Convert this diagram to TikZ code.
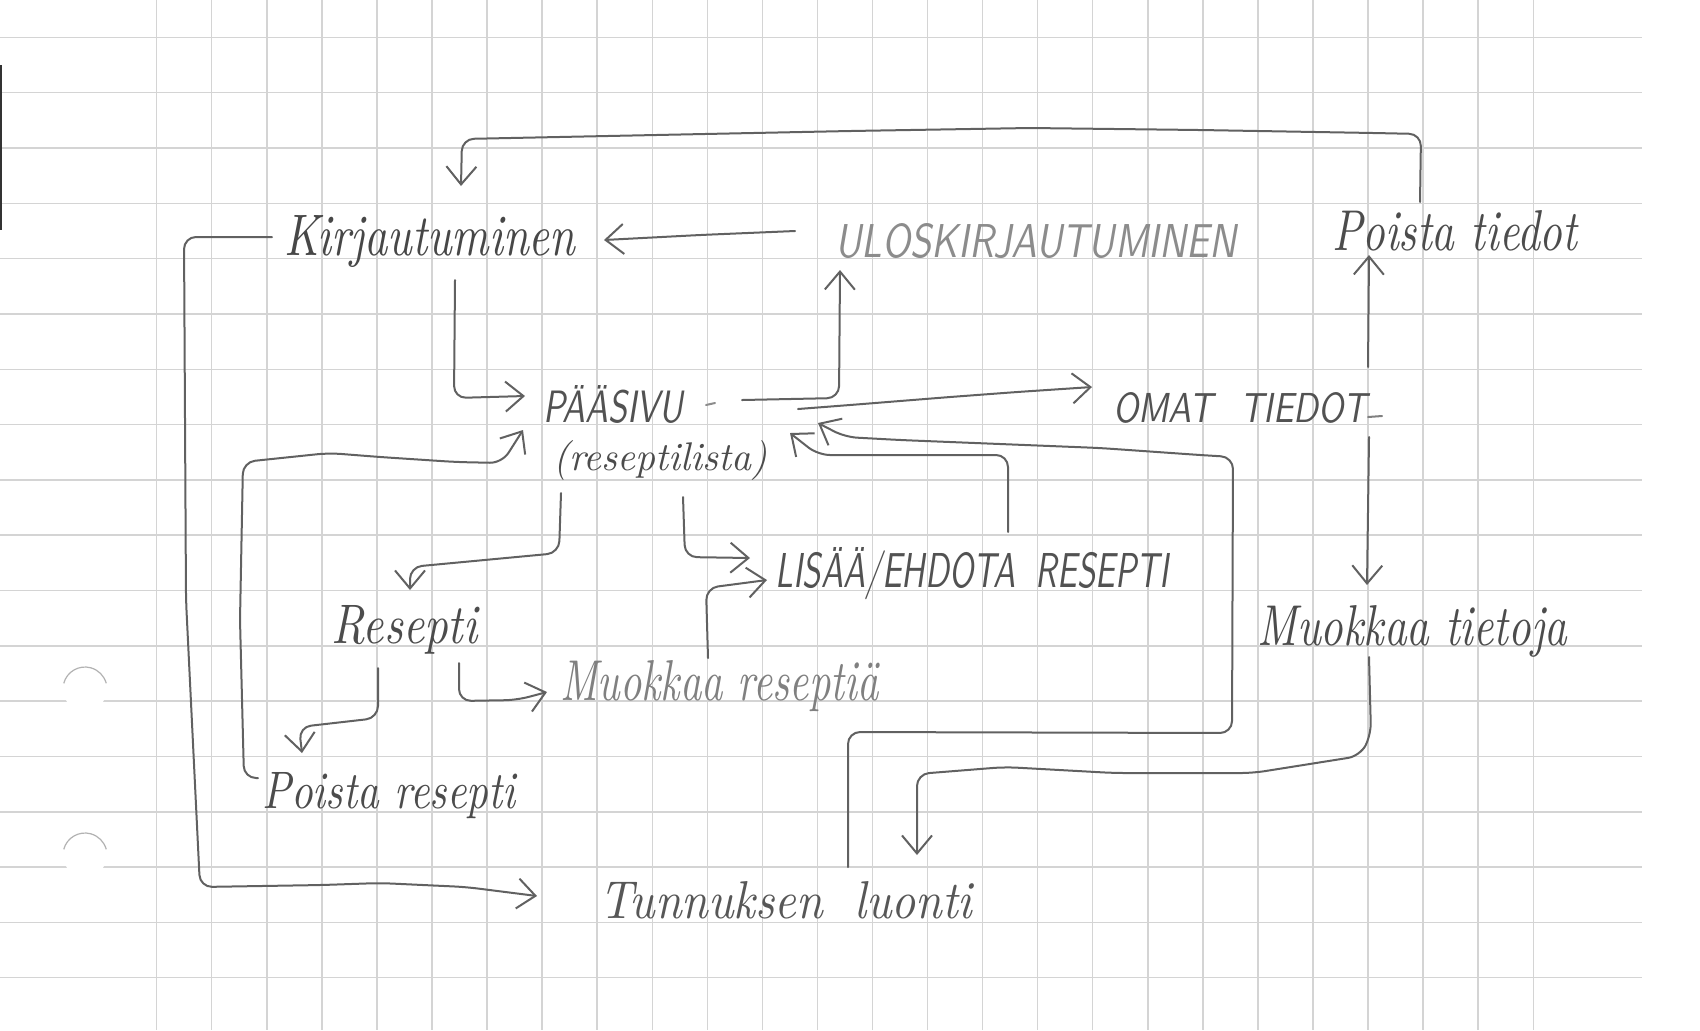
\documentclass[tikz,border=0pt]{standalone}
\usetikzlibrary{arrows.meta,calc}
\newcommand{\hwtext}[3]{\resizebox{#1pt}{#2pt}{#3}}
\begin{document}
\begin{tikzpicture}[x=0.5pt,y=-0.5pt,
  pencil/.style={draw=black!62, line width=1pt, line cap=round, line join=round, rounded corners=6pt},
  arr/.style={pencil, -{Straight Barb[length=9pt,width=15pt]}},
  hand/.style={inner sep=0pt, anchor=base west, text=black!70, font=\itshape},
  caps/.style={inner sep=0pt, anchor=base west, text=black!68, font=\sffamily\slshape},
  gridl/.style={draw=black!17, line width=0.7pt}]
\useasboundingbox (0,0) rectangle (1700,1030);
\fill[white] (0,0) rectangle (1700,1030);
% grid paper
\foreach \k in {0,...,25} \draw[gridl] ({156.7+55.06*\k},0) -- ({156.7+55.06*\k},1030);
\foreach \k in {0,...,17} \draw[gridl] (0,{37.3+55.32*\k}) -- (1642,{37.3+55.32*\k});
% punch holes and scan edge
\fill[white] (85,689) circle (22);
\fill[white] (85,855) circle (22);
\draw[black!30, line width=0.6pt] (85,689) ++(195:22) arc[start angle=195, end angle=345, radius=22];
\draw[black!30, line width=0.6pt] (85,855) ++(195:22) arc[start angle=195, end angle=345, radius=22];
\fill[black!80] (0,65) rectangle (2,230);

% texts
\node[hand, text=black!72] (kirj) at (284,255) {\hwtext{145.5}{20}{Kirjautuminen}};
\node[caps, text=black!45] (ulos) at (835,257) {\hwtext{200.5}{17}{ULOSKIRJAUTUMINEN}};
\node[hand] (ptied) at (1332,250) {\hwtext{122.5}{20}{Poista tiedot}};
\node[caps] (pas) at (543,422) {\hwtext{70}{18.5}{PÄÄSIVU}};
\node[hand] (rlist) at (553,470) {\hwtext{107}{15}{(reseptilista)}};
\node[caps] (omat) at (1113,422) {\hwtext{127}{15}{OMAT\hspace{0.8em}TIEDOT}};
\node[caps] (lisaa) at (775,587) {\hwtext{196.5}{20}{LISÄÄ/EHDOTA\hspace{0.6em}RESEPTI}};
\node[hand] (resepti) at (331,643) {\hwtext{73}{19}{Resepti}};
\node[hand, text=black!50] (mres) at (560,700) {\hwtext{159}{20}{Muokkaa reseptiä}};
\node[hand] (mtiet) at (1257,645) {\hwtext{155}{20}{Muokkaa tietoja}};
\node[hand] (pres) at (262,808) {\hwtext{126.5}{18}{Poista resepti}};
\node[hand, text=black!66] (tunn) at (599,918) {\hwtext{186.5}{18.5}{Tunnuksen\hspace{0.66em}luonti}};

% small pencil marks after labels
\draw[pencil, draw=black!45] ($(pas.base west)+(163,-17)$) -- ++(9,-2);
\draw[pencil, draw=black!50] ($(omat.base west)+(255,-5)$) -- ++(14,-1);

% connectors
\draw[arr] ($(ptied.base west)+(88,-48)$) -- (1421,134) -- (1374,133) -- (1200,130) -- (1030,128) -- (850,131) -- (462,139) -- ($(kirj.base west)+(177,-69)$);
\draw[arr] ($(ulos.base west)+(-40,-26)$) -- (700,235) -- ($(kirj.base west)+(320,-15)$);
\draw[arr] ($(kirj.base west)+(171,25)$) -- (454,398) -- ($(pas.base west)+(-18,-26)$);
\draw[arr] ($(pas.base west)+(199,-22)$) -- (839,398) -- ($(ulos.base west)+(5,13)$);
\draw[arr] ($(pas.base west)+(255,-13)$) -- (850,405) -- (950,397) -- (1017,392) -- ($(omat.base west)+(-21,-35)$);
\draw[arr] ($(omat.base west)+(255,-55)$) -- ($(ptied.base west)+(37,5)$);
\draw[arr] ($(omat.base west)+(256,15)$) -- ($(mtiet.base west)+(110,-60)$);
\draw[arr] ($(mtiet.base west)+(112,12)$) -- (1371,735) -- (1360,756) -- (1253,773) -- (1114,773) -- (1005,767) -- (917,774) -- ($(tunn.base west)+(318,-63)$);
\draw[arr] ($(tunn.base west)+(249,-51)$) -- (848,732) -- (1232,733) -- (1233,457) -- (1200,455) -- (1100,448) -- (1000,444) -- (900,440) -- (845,437) -- ($(rlist.base west)+(265,-47)$);
\draw[arr] ($(lisaa.base west)+(233,-55)$) -- (1008,455) -- (818,455) -- ($(rlist.base west)+(237,-37)$);
\draw[arr] ($(rlist.base west)+(8,23)$) -- (559,553) -- (410,567) -- ($(resepti.base west)+(79,-53)$);
\draw[arr] ($(rlist.base west)+(130,27)$) -- (685,557) -- ($(lisaa.base west)+(-25,-29)$);
\draw[arr] ($(mres.base west)+(148,-42)$) -- (706,588) -- ($(lisaa.base west)+(-8,-7)$);
\draw[arr] ($(resepti.base west)+(128,20)$) -- (459,701) -- (517,700) -- ($(mres.base west)+(-13,-8)$);
\draw[arr] ($(resepti.base west)+(47,25)$) -- (378,718) -- (299,727) -- ($(pres.base west)+(40,-55)$);
\draw[arr] ($(pres.base west)+(-4,-30)$) -- (244,778) -- (240,620) -- (243,462) -- (329,453) -- (380,457) -- (456,462) -- (502,463) -- ($(pas.base west)+(-20,8)$);
\draw[arr] ($(kirj.base west)+(-12,-18)$) -- (184,237) -- (186,600) -- (200,887) -- (322,885) -- (380,883) -- (466,887) -- ($(tunn.base west)+(-62,-22)$);
\end{tikzpicture}
\end{document}
